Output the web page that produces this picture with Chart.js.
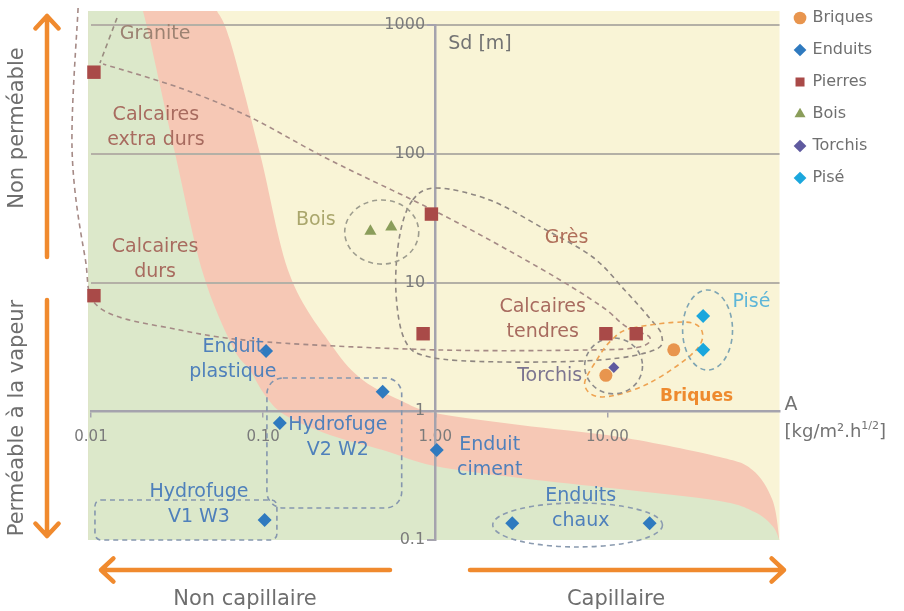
<!DOCTYPE html>
<html>
<head>
<meta charset="utf-8">
<script src="https://cdn.jsdelivr.net/npm/chart.js@4.4.0/dist/chart.umd.min.js"></script>
<style>
  html, body { margin: 0; padding: 0; background: #fff; }
</style>
</head>
<body>
<canvas id="chart" width="904" height="611"></canvas>
<script>
// Capillarity A [kg/m².h^1/2] vs vapour resistance Sd [m]
const briquesA = [24.3, 9.8];
const briquesSd = [3.0, 1.9];
const enduitsA = [0.104, 0.495, 0.125, 1.02, 0.102, 2.8, 17.6];
const enduitsSd = [2.94, 1.42, 0.81, 0.50, 0.143, 0.135, 0.135];
const pierresA = [0.0104, 0.0104, 0.95, 0.85, 9.8, 14.7];
const pierresSd = [430, 7.9, 34, 4.0, 4.0, 4.0];
const boisA = [0.42, 0.555];
const boisSd = [25, 27];
const torchisA = [10.9];
const torchisSd = [2.19];
const piseA = [36, 36];
const piseSd = [5.5, 3.0];

const xTicks = [0.01, 0.1, 1, 10];
const yTicks = [0.1, 1, 10, 100, 1000];

// zone edges and groupings, in log10(A), log10(Sd)
const zoneTop = 3.109;
const zoneLeft = -2.017;
const pinkEdge = [[-1.268,3.109],[-1.193,2.883],[-1.019,2.006],[-0.845,1.058],[-0.595,0.499],[-0.421,0.243],[-0.206,0.087],[-0.003,-0.014],[0.491,-0.107],[1.071,-0.200],[1.652,-0.355],[1.843,-0.456],[1.959,-0.689],[2.0,-1.0]];
const greenEdge = [[-1.698,3.109],[-1.657,2.883],[-1.512,2.006],[-1.350,1.074],[-1.176,0.499],[-1.077,0.320],[-0.990,0.126],[-0.874,-0.029],[-0.612,-0.184],[-0.305,-0.301],[-0.003,-0.425],[0.491,-0.518],[1.071,-0.604],[1.652,-0.697],[1.855,-0.783],[1.959,-0.891],[2.0,-1.0]];

const loopCalcaires = [[-2.075,3.132],[-2.11,2.029],[-2.035,1.198],[-1.948,0.802],[-1.483,0.631],[-0.978,0.538],[0.026,0.476],[0.897,0.476],[1.187,0.499],[1.245,0.577],[1.112,0.654],[0.955,0.825],[0.607,1.112],[0.044,1.524],[-0.612,1.951],[-1.077,2.285],[-1.483,2.511],[-1.930,2.697]];
const loopGres = [[-0.131,1.641],[0.009,1.734],[0.316,1.641],[0.624,1.423],[0.914,1.198],[1.100,0.942],[1.245,0.724],[1.315,0.592],[1.274,0.476],[0.955,0.398],[0.374,0.383],[-0.032,0.421],[-0.177,0.553],[-0.229,0.942],[-0.206,1.369]];
const loopBriques = [[1.147,0.647],[1.495,0.685],[1.530,0.499],[1.245,0.220],[0.973,0.111],[0.868,0.204],[0.938,0.398],[1.025,0.553]];
const granitePointer = [[-1.849,3.054],[-1.948,2.705]];

const ellipses = [
  { c: [-0.311, 1.392], r: [0.215, 0.249], color: '#9d9c8e' },
  { c: [1.582, 0.631], r: [0.145, 0.311], color: '#7fa5b3' },
  { c: [1.036, 0.352], r: [0.168, 0.217], color: '#8d8b8b' },
  { c: [0.827, -0.883], r: [0.493, 0.171], color: '#8b9bb0' }
];
const boxes = [
  { from: [-0.978, 0.258], to: [-0.195, -0.751], radius: 16 },
  { from: [-1.977, -0.689], to: [-0.920, -1.0], radius: 6 }
];

const labels = [
  { lines: ['Granite'], at: [-1.628, 2.930], color: '#9c8272' },
  { lines: ['Calcaires', 'extra durs'], at: [-1.623, 2.2], color: '#a86b5f' },
  { lines: ['Calcaires', 'durs'], at: [-1.628, 1.175], color: '#a86b5f' },
  { lines: ['Bois'], at: [-0.694, 1.485], color: '#aaa66c' },
  { lines: ['Grès'], at: [0.763, 1.346], color: '#b06f5a' },
  { lines: ['Calcaires', 'tendres'], at: [0.624, 0.709], color: '#a86b5f' },
  { lines: ['Torchis'], at: [0.665, 0.274], color: '#7c7590' },
  { lines: ['Briques'], at: [1.518, 0.111], color: '#ee8a2e', bold: true },
  { lines: ['Pisé'], at: [1.837, 0.849], color: '#5eb6d8' },
  { lines: ['Enduit', 'plastique'], at: [-1.176, 0.398], color: '#4f80bb' },
  { lines: ['Hydrofuge', 'V2 W2'], at: [-0.566, -0.208], color: '#4f80bb' },
  { lines: ['Enduit', 'ciment'], at: [0.316, -0.363], color: '#4f80bb' },
  { lines: ['Hydrofuge', 'V1 W3'], at: [-1.373, -0.728], color: '#4f80bb' },
  { lines: ['Enduits', 'chaux'], at: [0.845, -0.759], color: '#4f80bb' }
];

const FONT = '"DejaVu Sans", sans-serif';
const ORANGE = '#f08a2e';

function toPx(chart, p) {
  return [chart.scales.x.getPixelForValue(Math.pow(10, p[0])),
          chart.scales.y.getPixelForValue(Math.pow(10, p[1]))];
}

// catmull-rom through points
function curveThrough(ctx, pts, closed, move) {
  const n = pts.length;
  const get = i => closed ? pts[(i + n) % n] : pts[Math.max(0, Math.min(n - 1, i))];
  if (move) ctx.moveTo(pts[0][0], pts[0][1]); else ctx.lineTo(pts[0][0], pts[0][1]);
  const segs = closed ? n : n - 1;
  for (let i = 0; i < segs; i++) {
    const p0 = get(i - 1), p1 = get(i), p2 = get(i + 1), p3 = get(i + 2);
    ctx.bezierCurveTo(p1[0] + (p2[0] - p0[0]) / 6, p1[1] + (p2[1] - p0[1]) / 6,
                      p2[0] - (p3[0] - p1[0]) / 6, p2[1] - (p3[1] - p1[1]) / 6, p2[0], p2[1]);
  }
}

function arrow(ctx, x1, y1, x2, y2) {
  const ang = Math.atan2(y2 - y1, x2 - x1);
  const head = 17;
  ctx.beginPath();
  ctx.moveTo(x1, y1);
  ctx.lineTo(x2, y2);
  ctx.moveTo(x2 - head * Math.cos(ang - 0.75), y2 - head * Math.sin(ang - 0.75));
  ctx.lineTo(x2, y2);
  ctx.lineTo(x2 - head * Math.cos(ang + 0.75), y2 - head * Math.sin(ang + 0.75));
  ctx.stroke();
}

const zonesPlugin = {
  id: 'zones',
  beforeDraw(chart) {
    const ctx = chart.ctx, a = chart.chartArea;
    const left = chart.scales.x.getPixelForValue(Math.pow(10, zoneLeft));
    const top = chart.scales.y.getPixelForValue(Math.pow(10, zoneTop));
    ctx.save();
    ctx.fillStyle = '#f9f4d6';
    ctx.fillRect(left, top, a.right - left, a.bottom - top);
    ctx.beginPath();
    ctx.rect(left, top, a.right - left, a.bottom - top);
    ctx.clip();
    [[pinkEdge, '#f6c8b5'], [greenEdge, '#dce8ca']].forEach(([edge, col]) => {
      const pts = edge.map(p => toPx(chart, p));
      ctx.beginPath();
      ctx.moveTo(left - 5, top - 5);
      curveThrough(ctx, pts, false, false);
      ctx.lineTo(a.right + 5, a.bottom + 5);
      ctx.lineTo(left - 5, a.bottom + 5);
      ctx.closePath();
      ctx.fillStyle = col;
      ctx.fill();
    });
    ctx.restore();
  },
  beforeDatasetsDraw(chart) {
    const ctx = chart.ctx;
    ctx.save();
    ctx.lineWidth = 1.6;
    ctx.setLineDash([5, 4]);
    const path = (pts, closed, color) => {
      ctx.strokeStyle = color;
      ctx.beginPath();
      curveThrough(ctx, pts.map(p => toPx(chart, p)), closed, true);
      if (closed) ctx.closePath();
      ctx.stroke();
    };
    path(loopCalcaires, false, '#a58a86');
    path(loopGres, true, '#8f8782');
    path(loopBriques, true, '#eea352');
    path(granitePointer, false, '#9a8c80');
    ellipses.forEach(e => {
      const c = toPx(chart, e.c);
      const edge = toPx(chart, [e.c[0] + e.r[0], e.c[1] + e.r[1]]);
      ctx.strokeStyle = e.color;
      ctx.beginPath();
      ctx.ellipse(c[0], c[1], Math.abs(edge[0] - c[0]), Math.abs(edge[1] - c[1]), 0, 0, Math.PI * 2);
      ctx.stroke();
    });
    ctx.strokeStyle = '#8596ae';
    boxes.forEach(b => {
      const p = toPx(chart, b.from), q = toPx(chart, b.to);
      const r = b.radius;
      ctx.beginPath();
      ctx.moveTo(p[0] + r, p[1]);
      ctx.arcTo(q[0], p[1], q[0], q[1], r);
      ctx.arcTo(q[0], q[1], p[0], q[1], r);
      ctx.arcTo(p[0], q[1], p[0], p[1], r);
      ctx.arcTo(p[0], p[1], q[0], p[1], r);
      ctx.closePath();
      ctx.stroke();
    });
    ctx.restore();
  },
  afterDatasetsDraw(chart) {
    const ctx = chart.ctx, a = chart.chartArea;
    ctx.save();
    ctx.textAlign = 'center';
    ctx.textBaseline = 'middle';
    labels.forEach(l => {
      const p = toPx(chart, l.at);
      ctx.font = (l.bold ? 'bold 17px ' : '19px ') + FONT;
      ctx.fillStyle = l.color;
      l.lines.forEach((t, i) => ctx.fillText(t, p[0], p[1] + (i - (l.lines.length - 1) / 2) * 25));
    });

    // axis titles
    const ox = chart.scales.x.getPixelForValue(1);
    const oy = chart.scales.y.getPixelForValue(1);
    ctx.fillStyle = '#737373';
    ctx.textAlign = 'left';
    ctx.font = '19px ' + FONT;
    ctx.fillText('Sd [m]', ox + 13, a.top + 19);
    ctx.fillText('A', a.right + 5, oy - 6);
    ctx.font = '18px ' + FONT;
    let tx = a.right + 5;
    ctx.fillText('[kg/m².h', tx, oy + 21);
    tx += ctx.measureText('[kg/m².h').width;
    ctx.font = '11px ' + FONT;
    ctx.fillText('1/2', tx, oy + 15);
    tx += ctx.measureText('1/2').width;
    ctx.font = '18px ' + FONT;
    ctx.fillText(']', tx, oy + 21);

    // side captions
    ctx.fillStyle = '#6e6e6e';
    ctx.font = '21px ' + FONT;
    ctx.textAlign = 'center';
    ctx.fillText('Non capillaire', 245, 600);
    ctx.fillText('Capillaire', 616, 600);
    ctx.save();
    ctx.translate(18, 128);
    ctx.rotate(-Math.PI / 2);
    ctx.fillText('Non perméable', 0, 0);
    ctx.restore();
    ctx.save();
    ctx.translate(18, 418);
    ctx.rotate(-Math.PI / 2);
    ctx.fillText('Perméable à la vapeur', 0, 0);
    ctx.restore();

    // orange arrows
    ctx.strokeStyle = ORANGE;
    ctx.lineWidth = 4.5;
    ctx.lineCap = 'round';
    ctx.lineJoin = 'round';
    arrow(ctx, 47, 257, 47, 16);
    arrow(ctx, 47, 300, 47, 536);
    arrow(ctx, 390, 570, 101, 570);
    arrow(ctx, 470, 570, 784, 570);
    ctx.restore();
  }
};

function pts(xs, ys) { return xs.map((x, i) => ({ x: x, y: ys[i] })); }

const datasets = [
  { label: 'Briques', data: pts(briquesA, briquesSd), pointStyle: 'circle', pointRadius: 6.5, backgroundColor: '#e8954e' },
  { label: 'Enduits', data: pts(enduitsA, enduitsSd), pointStyle: 'rectRot', pointRadius: 7, backgroundColor: '#2f7abf' },
  { label: 'Pierres', data: pts(pierresA, pierresSd), pointStyle: 'rect', pointRadius: 9.5, backgroundColor: '#a94a48' },
  { label: 'Bois', data: pts(boisA, boisSd), pointStyle: 'triangle', pointRadius: 7, backgroundColor: '#8a9d5a' },
  { label: 'Torchis', data: pts(torchisA, torchisSd), pointStyle: 'rectRot', pointRadius: 5.5, backgroundColor: '#5f5a9f' },
  { label: 'Pisé', data: pts(piseA, piseSd), pointStyle: 'rectRot', pointRadius: 7, backgroundColor: '#1ba7dd' }
].map(d => Object.assign(d, { borderWidth: 0, borderColor: d.backgroundColor, pointHoverRadius: d.pointRadius, clip: false }));

new Chart(document.getElementById('chart'), {
  type: 'scatter',
  data: { datasets: datasets },
  options: {
    responsive: false,
    animation: false,
    layout: { padding: { left: 91, right: 21, top: -6, bottom: 71 } },
    plugins: {
      tooltip: { enabled: false },
      legend: {
        position: 'right',
        align: 'start',
        labels: {
          usePointStyle: true,
          boxWidth: 9,
          boxHeight: 9,
          padding: 16,
          color: '#6f6f6f',
          font: { family: FONT, size: 16 }
        }
      }
    },
    scales: {
      x: {
        type: 'logarithmic',
        min: 0.01,
        max: 100,
        position: { y: 1 },
        afterBuildTicks: s => { s.ticks = xTicks.map(v => ({ value: v })); },
        ticks: {
          callback: v => Number(v).toFixed(2),
          color: '#7b7b7b',
          font: { family: FONT, size: 15 },
          padding: 12,
          maxRotation: 0,
          autoSkip: false
        },
        grid: { drawOnChartArea: false, tickLength: 5, color: '#a5a3ad', lineWidth: 1.5 },
        border: { color: '#a5a3ad', width: 2.5 }
      },
      y: {
        type: 'logarithmic',
        min: 0.1,
        max: 1000,
        position: { x: 1 },
        afterBuildTicks: s => { s.ticks = yTicks.map(v => ({ value: v })); },
        ticks: {
          callback: v => String(v) + '  ',
          color: '#7b7b7b',
          font: { family: FONT, size: 16 },
          autoSkip: false
        },
        grid: {
          color: c => (c.tick && c.tick.value >= 10) ? '#b4b0a6' : 'rgba(0,0,0,0)',
          tickColor: '#a5a3ad',
          lineWidth: 2,
          tickLength: 7
        },
        border: { color: '#a5a3ad', width: 2.5 }
      },
      pad: {
        type: 'linear',
        position: 'top',
        display: true,
        grid: { display: false },
        border: { display: false },
        ticks: { display: false },
        afterFit: s => { s.height = 31; }
      }
    }
  },
  plugins: [zonesPlugin]
});
</script>
</body>
</html>
